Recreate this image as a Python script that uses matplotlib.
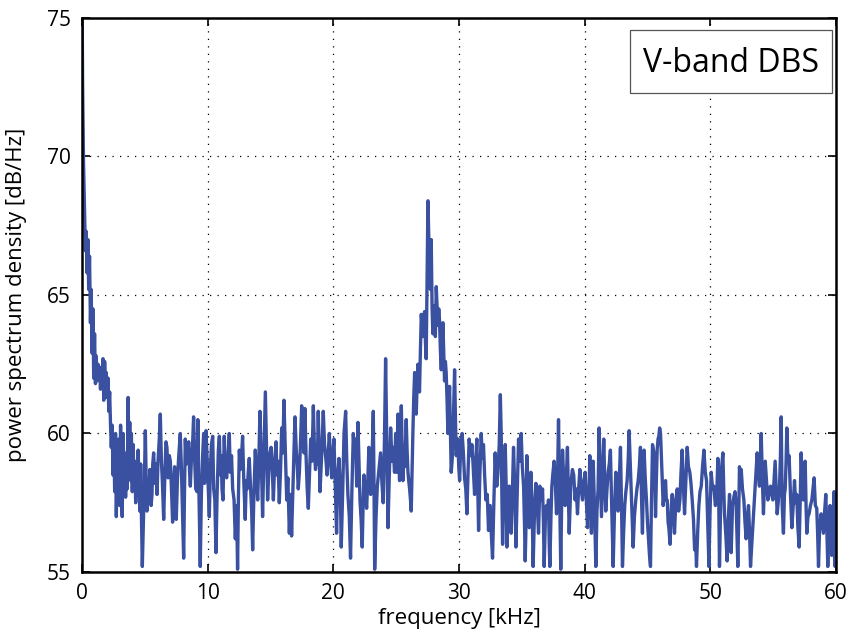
import matplotlib
matplotlib.use("Agg")
import matplotlib.pyplot as plt
from matplotlib.patches import Rectangle

# spectrum: frequency in kHz, power spectral density in dB/Hz
freq_khz = [
    0.0, 0.05, 0.12, 0.2, 0.27, 0.33, 0.4, 0.47, 0.53, 0.6, 0.67, 0.73, 0.8, 0.87, 0.93,
    1.0, 1.07, 1.13, 1.2, 1.27, 1.33, 1.4, 1.47, 1.53, 1.6, 1.67, 1.73, 1.8, 1.87, 1.93,
    2.0, 2.07, 2.13, 2.2, 2.27, 2.33, 2.4, 2.47, 2.53, 2.6, 2.67, 2.73, 2.8, 2.87, 2.93,
    3.0, 3.07, 3.13, 3.2, 3.27, 3.33, 3.4, 3.47, 3.53, 3.6, 3.67, 3.73, 3.8, 3.87, 3.93,
    4.0, 4.07, 4.13, 4.2, 4.27, 4.33, 4.4, 4.47, 4.53, 4.6, 4.67, 4.73, 4.8,
]
psd_db = [
    76.0, 72.5, 69.8, 68.1, 66.6, 67.3, 65.8, 67.0, 65.2, 66.4, 64.0, 65.2, 62.9, 64.5, 62.0,
    63.6, 61.8, 62.8, 61.9, 62.5, 62.0, 62.4, 61.6, 62.3, 62.0, 62.7, 61.2, 62.6, 61.8, 62.2,
    61.3, 62.0, 60.8, 61.5, 60.3, 59.5, 60.3, 58.5, 59.8, 57.9, 60.0, 57.0, 59.0, 58.4, 59.8,
    57.4, 60.3, 58.2, 57.0, 60.0, 58.6, 59.3, 57.7, 59.2, 58.0, 61.3, 59.0, 60.4, 58.3, 60.0,
    57.9, 59.6, 58.4, 59.0, 57.5, 58.8, 57.9, 59.4, 58.2, 57.2, 58.9, 57.0, 55.2,
]

freq_khz += [
    4.95, 5.04, 5.1, 5.17, 5.24, 5.3, 5.4, 5.5, 5.57, 5.63, 5.7, 5.8, 5.9, 5.97, 6.05,
    6.15, 6.23, 6.32, 6.4, 6.5, 6.6, 6.68, 6.76, 6.85, 6.95, 7.03, 7.12, 7.21, 7.3, 7.37,
    7.43, 7.5, 7.6, 7.7, 7.82, 7.9, 7.98, 8.09, 8.16, 8.22, 8.3, 8.4, 8.49, 8.56, 8.62,
    8.7, 8.8, 8.88, 8.97, 9.05, 9.15, 9.22, 9.3, 9.41, 9.5, 9.6, 9.68, 9.75, 9.82,
]
psd_db += [
    58.0, 60.1, 58.5, 57.2, 58.3, 57.6, 58.7, 57.4, 57.8, 58.9, 59.3, 58.2, 58.9, 57.8, 59.0,
    59.8, 60.7, 59.0, 58.2, 56.9, 58.6, 59.7, 59.5, 58.4, 59.2, 59.0, 58.0, 56.8, 58.2, 58.8,
    58.6, 56.9, 58.4, 59.2, 60.0, 58.9, 57.4, 55.5, 58.0, 59.8, 58.9, 59.0, 59.7, 58.6, 58.1,
    59.0, 59.6, 60.6, 59.0, 58.0, 57.9, 60.5, 58.0, 55.2, 57.8, 59.2, 60.0, 58.2, 58.8,
]

freq_khz += [
    9.87, 9.95, 10.05, 10.13, 10.22, 10.3, 10.4, 10.48, 10.57, 10.66, 10.75, 10.85, 10.93,
    11.02, 11.08, 11.14, 11.22, 11.32, 11.4, 11.51, 11.6, 11.72, 11.8, 11.9, 11.99, 12.1,
    12.2, 12.3, 12.38, 12.45, 12.52, 12.6, 12.7, 12.78, 12.88, 12.99, 13.07, 13.15, 13.23,
    13.31, 13.4, 13.5, 13.58, 13.68, 13.79, 13.88, 13.98, 14.07, 14.16, 14.26, 14.37, 14.47,
    14.59, 14.68, 14.77, 14.87, 14.96,
]
psd_db += [
    60.1, 59.2, 58.0, 57.0, 58.8, 59.6, 59.9, 58.0, 57.6, 55.7, 57.8, 59.4, 59.9,
    58.5, 59.2, 58.0, 57.6, 59.9, 58.8, 58.4, 59.0, 60.0, 58.6, 59.2, 58.0, 57.6,
    56.2, 57.4, 55.1, 57.8, 59.4, 58.7, 59.2, 59.9, 58.2, 56.9, 58.3, 58.0, 58.6,
    59.1, 58.2, 57.2, 55.8, 57.8, 59.4, 58.5, 57.6, 59.0, 60.8, 59.2, 57.0, 59.1,
    61.5, 59.5, 57.6, 58.7, 59.3,
]

freq_khz += [
    15.05, 15.15, 15.23, 15.33, 15.44, 15.52, 15.6, 15.7, 15.8, 15.89, 15.98, 16.07, 16.17,
    16.29, 16.38, 16.5, 16.6, 16.68, 16.78, 16.87, 16.95, 17.05, 17.13, 17.21, 17.3, 17.4,
    17.48, 17.58, 17.66, 17.74, 17.83, 17.92, 18.01, 18.1, 18.2, 18.3, 18.41, 18.5, 18.58,
    18.66, 18.73, 18.8, 18.87, 18.94, 19.05, 19.13, 19.2, 19.3, 19.42, 19.5, 19.6, 19.68,
    19.78, 19.87, 19.95,
]
psd_db += [
    59.5, 58.6, 57.6, 58.9, 59.7, 58.5, 59.0, 57.5, 58.7, 60.2, 59.3, 61.2, 59.6,
    57.6, 58.4, 56.4, 57.8, 56.3, 58.0, 59.4, 60.6, 59.4, 58.8, 58.0, 58.6, 59.8,
    61.0, 60.0, 59.3, 60.9, 59.2, 58.0, 57.3, 58.5, 59.8, 59.0, 61.0, 59.4, 58.7,
    59.2, 58.9, 60.8, 59.3, 57.9, 59.0, 60.0, 60.8, 59.6, 59.0, 58.5, 59.3, 60.0,
    59.0, 58.4, 59.2,
]

freq_khz += [
    20.05, 20.15, 20.26, 20.35, 20.45, 20.55, 20.63, 20.75, 20.85, 20.98, 21.07, 21.16,
    21.27, 21.37, 21.48, 21.59, 21.68, 21.77, 21.86, 21.96, 22.04, 22.12, 22.21, 22.3,
    22.37, 22.44, 22.55, 22.65, 22.75, 22.83, 22.9, 22.97, 23.08, 23.18, 23.24, 23.29,
    23.4, 23.5, 23.63, 23.76, 23.87, 23.97, 24.07, 24.16, 24.26, 24.35, 24.45, 24.56,
    24.67, 24.77, 24.87, 24.96, 25.05,
]
psd_db += [
    59.8, 58.2, 56.4, 58.5, 59.1, 58.1, 55.9, 58.0, 60.0, 60.8, 59.0, 57.8,
    57.0, 55.5, 58.0, 60.0, 59.2, 59.8, 58.1, 60.4, 59.0, 57.6, 56.9, 55.9,
    57.4, 58.5, 57.9, 57.3, 58.4, 59.5, 58.8, 57.8, 59.0, 60.8, 58.0, 55.1,
    57.0, 58.1, 58.7, 59.3, 58.2, 57.5, 59.8, 62.7, 59.5, 56.6, 58.4, 60.2,
    59.0, 59.5, 58.6, 60.0, 58.6,
]

# the peak near 27.5 kHz
freq_khz += [
    25.14, 25.2, 25.27, 25.34, 25.41, 25.47, 25.54, 25.6, 25.67, 25.74, 25.8, 25.87, 25.94,
    26.0, 26.07, 26.14, 26.2, 26.27, 26.33, 26.4, 26.47, 26.53, 26.6, 26.67, 26.73, 26.8,
    26.86, 26.93, 27.0, 27.07, 27.13, 27.2, 27.26, 27.33, 27.39, 27.46, 27.53, 27.6, 27.66,
    27.73, 27.79, 27.86, 27.92, 27.99, 28.06, 28.12, 28.19, 28.26, 28.32, 28.39, 28.45,
    28.52, 28.59, 28.65, 28.72, 28.79, 28.85, 28.92, 28.98, 29.05, 29.12, 29.18, 29.25,
    29.32, 29.38, 29.45, 29.52, 29.58, 29.65, 29.72, 29.78, 29.85, 29.91, 29.98, 30.05,
    30.12, 30.18,
]
psd_db += [
    60.7, 59.4, 58.3, 59.8, 61.0, 59.6, 58.3, 59.0, 58.8, 59.6, 60.5, 59.4, 58.6,
    58.3, 58.0, 57.6, 57.2, 58.8, 60.0, 61.3, 62.2, 61.0, 60.7, 61.8, 62.5, 61.7,
    61.5, 63.0, 64.3, 63.8, 63.5, 64.1, 64.4, 63.3, 62.7, 65.5, 68.4, 67.0, 66.4,
    65.2, 67.0, 64.5, 63.6, 64.6, 64.6, 63.5, 65.3, 64.5, 63.9, 64.5, 64.1,
    63.0, 62.3, 63.2, 64.0, 62.9, 61.9, 62.6, 62.2, 61.2, 60.0, 60.8, 61.7,
    60.0, 58.6, 59.0, 59.6, 61.0, 62.3, 60.5, 59.2, 59.5, 59.8, 58.8, 58.3,
    59.3, 59.8,
]

freq_khz += [
    30.25, 30.35, 30.44, 30.54, 30.63, 30.72, 30.81, 30.92, 31.03, 31.13, 31.24, 31.33,
    31.42, 31.5, 31.56, 31.66, 31.77, 31.86, 31.95, 32.04, 32.14, 32.25, 32.35, 32.42,
    32.48, 32.58, 32.67, 32.78, 32.88, 32.95, 33.01, 33.1, 33.2, 33.29, 33.36, 33.42,
    33.47, 33.58, 33.68, 33.75, 33.81, 33.9, 34.0, 34.08, 34.15, 34.25, 34.34, 34.44,
    34.53, 34.63, 34.74, 34.84, 34.95, 35.04, 35.14, 35.22, 35.27,
]
psd_db += [
    60.0, 59.3, 58.4, 58.0, 57.1, 58.6, 59.8, 59.2, 59.6, 58.8, 57.8, 58.9,
    59.8, 58.0, 56.5, 58.5, 60.0, 59.1, 59.6, 58.5, 57.6, 57.8, 56.5, 57.4,
    57.4, 56.3, 55.5, 57.6, 59.3, 58.4, 58.1, 58.6, 59.6, 61.4, 60.0, 57.5,
    56.0, 58.0, 59.6, 58.2, 55.9, 57.0, 58.1, 57.6, 56.4, 57.9, 59.5, 58.0,
    55.9, 57.8, 59.8, 59.0, 60.0, 58.8, 58.1, 56.6, 55.4,
]

freq_khz += [
    35.32, 35.4, 35.5, 35.59, 35.72, 35.82, 35.9, 36.0, 36.12, 36.22, 36.33, 36.43,
    36.55, 36.65, 36.72, 36.78, 36.88, 36.96, 37.05, 37.12, 37.18, 37.23, 37.32, 37.39,
    37.48, 37.57, 37.66, 37.76, 37.85, 37.92, 38.0, 38.1, 38.17, 38.24, 38.35, 38.45,
    38.55, 38.63, 38.7, 38.77, 38.9, 39.03, 39.13, 39.24, 39.33, 39.43, 39.52, 39.62,
    39.72, 39.83, 39.94, 40.04, 40.14, 40.23, 40.3, 40.36,
]
psd_db += [
    56.4, 59.2, 58.0, 56.6, 58.6, 57.4, 55.2, 57.0, 58.2, 57.5, 56.4, 58.1,
    57.6, 58.0, 56.8, 55.2, 57.0, 57.4, 57.0, 57.6, 56.0, 55.2, 57.0, 58.1,
    58.6, 59.0, 58.3, 57.1, 58.5, 60.5, 58.0, 55.1, 57.5, 59.4, 58.2, 57.4,
    58.5, 59.5, 58.0, 56.4, 58.2, 58.7, 58.5, 57.6, 58.0, 57.1, 58.0, 58.7,
    58.0, 57.6, 58.3, 58.6, 57.5, 56.6, 57.8, 58.1,
]

freq_khz += [
    40.41, 40.48, 40.54, 40.6, 40.68, 40.78, 40.89, 40.98, 41.07, 41.15, 41.25, 41.34,
    41.43, 41.52, 41.6, 41.68, 41.78, 41.87, 41.96, 42.05, 42.16, 42.27, 42.38, 42.48,
    42.57, 42.66, 42.75, 42.85, 42.93, 43.01, 43.1, 43.19, 43.28, 43.38, 43.46, 43.54,
    43.63, 43.72, 43.79, 43.86, 43.96, 44.07, 44.16, 44.26, 44.35, 44.44, 44.52, 44.6,
    44.66, 44.73, 44.82, 44.92, 45.0, 45.08, 45.16, 45.24, 45.32, 45.4,
]
psd_db += [
    59.2, 57.6, 56.4, 57.8, 59.0, 57.4, 55.2, 57.2, 58.0, 60.2, 58.5, 57.0,
    58.4, 59.8, 58.3, 57.2, 58.0, 58.6, 58.9, 59.4, 57.2, 55.2, 57.3, 58.6,
    57.8, 57.2, 58.3, 59.5, 57.5, 55.2, 56.4, 57.4, 57.9, 58.3, 59.0, 60.1,
    58.9, 57.6, 56.8, 55.9, 57.0, 57.6, 58.0, 58.3, 58.8, 59.5, 57.8, 56.4,
    58.0, 59.4, 58.4, 57.6, 56.8, 56.2, 55.6, 55.2, 57.6, 59.6,
]

freq_khz += [
    45.51, 45.58, 45.64, 45.7, 45.77, 45.84, 45.9, 45.97, 46.04, 46.15, 46.25, 46.35,
    46.44, 46.5, 46.57, 46.64, 46.7, 46.8, 46.9, 46.97, 47.06, 47.15, 47.26, 47.37,
    47.48, 47.58, 47.67, 47.76, 47.85, 47.95, 48.06, 48.16, 48.26, 48.37, 48.46, 48.56,
    48.66, 48.75, 48.83, 48.9, 49.0, 49.09, 49.18, 49.28, 49.38, 49.49, 49.6, 49.7,
    49.8, 49.89, 49.98, 50.07, 50.18, 50.28, 50.4, 50.5,
]
psd_db += [
    59.3, 58.5, 57.0, 58.2, 59.4, 59.8, 59.9, 60.2, 60.0, 58.6, 57.4, 58.0,
    58.3, 57.6, 57.6, 56.8, 56.6, 56.0, 57.4, 57.8, 57.2, 56.4, 57.6, 58.0,
    57.2, 57.6, 58.6, 59.4, 58.2, 57.1, 58.4, 59.5, 58.8, 58.6, 58.2, 57.6,
    56.9, 55.8, 56.2, 55.2, 56.5, 57.4, 57.9, 58.1, 58.8, 59.4, 58.6, 58.3,
    56.6, 55.2, 57.2, 58.6, 58.0, 58.1, 57.4, 57.6,
]

freq_khz += [
    50.6, 50.67, 50.73, 50.8, 50.87, 50.94, 51.0, 51.07, 51.13, 51.24, 51.34, 51.44,
    51.53, 51.6, 51.66, 51.77, 51.87, 51.97, 52.06, 52.13, 52.19, 52.26, 52.32, 52.4,
    52.46, 52.56, 52.67, 52.76, 52.85, 52.95, 53.04, 53.12, 53.2, 53.3, 53.38, 53.48,
    53.57, 53.65, 53.73, 53.82, 53.91, 53.98, 54.05, 54.14, 54.23, 54.3, 54.37, 54.47,
    54.58, 54.68, 54.79, 54.88, 54.98, 55.07, 55.16, 55.24, 55.32, 55.42, 55.51, 55.58,
    55.64,
]
psd_db += [
    59.1, 57.6, 55.2, 57.0, 58.6, 59.0, 59.3, 58.0, 57.1, 56.3, 55.4, 57.0,
    57.8, 56.8, 55.7, 57.4, 57.7, 57.9, 57.4, 56.2, 55.2, 57.0, 58.8, 58.3,
    58.7, 58.0, 57.6, 56.8, 56.2, 57.0, 57.4, 56.5, 55.2, 56.0, 56.6, 57.4,
    58.1, 58.7, 59.3, 58.6, 58.1, 59.0, 60.0, 58.4, 57.1, 58.0, 59.0, 58.3,
    57.6, 57.9, 58.1, 57.8, 57.6, 58.3, 59.0, 58.0, 57.1, 57.6, 58.1, 59.2,
    60.6,
]

freq_khz += [
    55.72, 55.82, 55.9, 55.96, 56.03, 56.09, 56.18, 56.27, 56.38, 56.49, 56.6, 56.7,
    56.79, 56.88, 56.97, 57.07, 57.15, 57.23, 57.32, 57.41, 57.48, 57.55, 57.62, 57.68,
    57.77, 57.86, 57.97, 58.08, 58.17, 58.26, 58.36, 58.47, 58.54, 58.61, 58.7, 58.82,
    58.9, 59.0, 59.1, 59.19, 59.27, 59.35, 59.44, 59.53, 59.6, 59.67, 59.76, 59.85,
    59.93, 60.0,
]
psd_db += [
    57.4, 56.4, 57.8, 58.0, 59.0, 60.2, 59.0, 59.2, 57.8, 56.6, 57.4, 58.3,
    57.5, 57.8, 56.6, 55.9, 57.5, 59.3, 58.0, 57.6, 58.4, 59.0, 57.4, 56.4,
    57.0, 57.1, 57.4, 57.6, 58.0, 58.4, 57.4, 57.3, 56.4, 55.2, 56.6, 57.1,
    56.8, 56.4, 57.2, 57.8, 56.6, 55.2, 56.8, 57.4, 56.3, 55.6, 56.8, 57.9,
    55.2, 56.5,
]

x_ticks = [0, 10, 20, 30, 40, 50, 60]
y_ticks = [55, 60, 65, 70, 75]
label_text = "V-band DBS"

plt.rcParams["font.family"] = ["Open Sans", "DejaVu Sans"]

fig = plt.figure(figsize=(8.56, 6.31), dpi=100)
ax = fig.add_axes([0.0958, 0.0935, 0.8808, 0.878])

ax.plot(freq_khz, psd_db, color="#3a50a0", linewidth=2.4, solid_joinstyle="round")

ax.set_xlim(0, 60)
ax.set_ylim(55, 75)
ax.set_xticks(x_ticks)
ax.set_yticks(y_ticks)
ax.grid(True, color="black", linestyle=(0, (1, 5)), linewidth=0.9)
ax.tick_params(direction="in", length=6, width=1.2, labelsize=15,
               top=True, right=True, pad=8)
for spine in ax.spines.values():
    spine.set_linewidth(1.8)

ax.set_xlabel("frequency [kHz]", fontsize=16, labelpad=3)
ax.set_ylabel("power spectrum density [dB/Hz]", fontsize=16, labelpad=14)

# text box in the upper right corner
box = Rectangle((0.727, 0.865), 0.268, 0.113, transform=ax.transAxes,
                facecolor="white", edgecolor="#555555", linewidth=0.9, zorder=5)
ax.add_patch(box)
ax.text(0.861, 0.918, label_text, transform=ax.transAxes, fontsize=23,
        ha="center", va="center", zorder=6)

plt.savefig("out.png", dpi=100)
